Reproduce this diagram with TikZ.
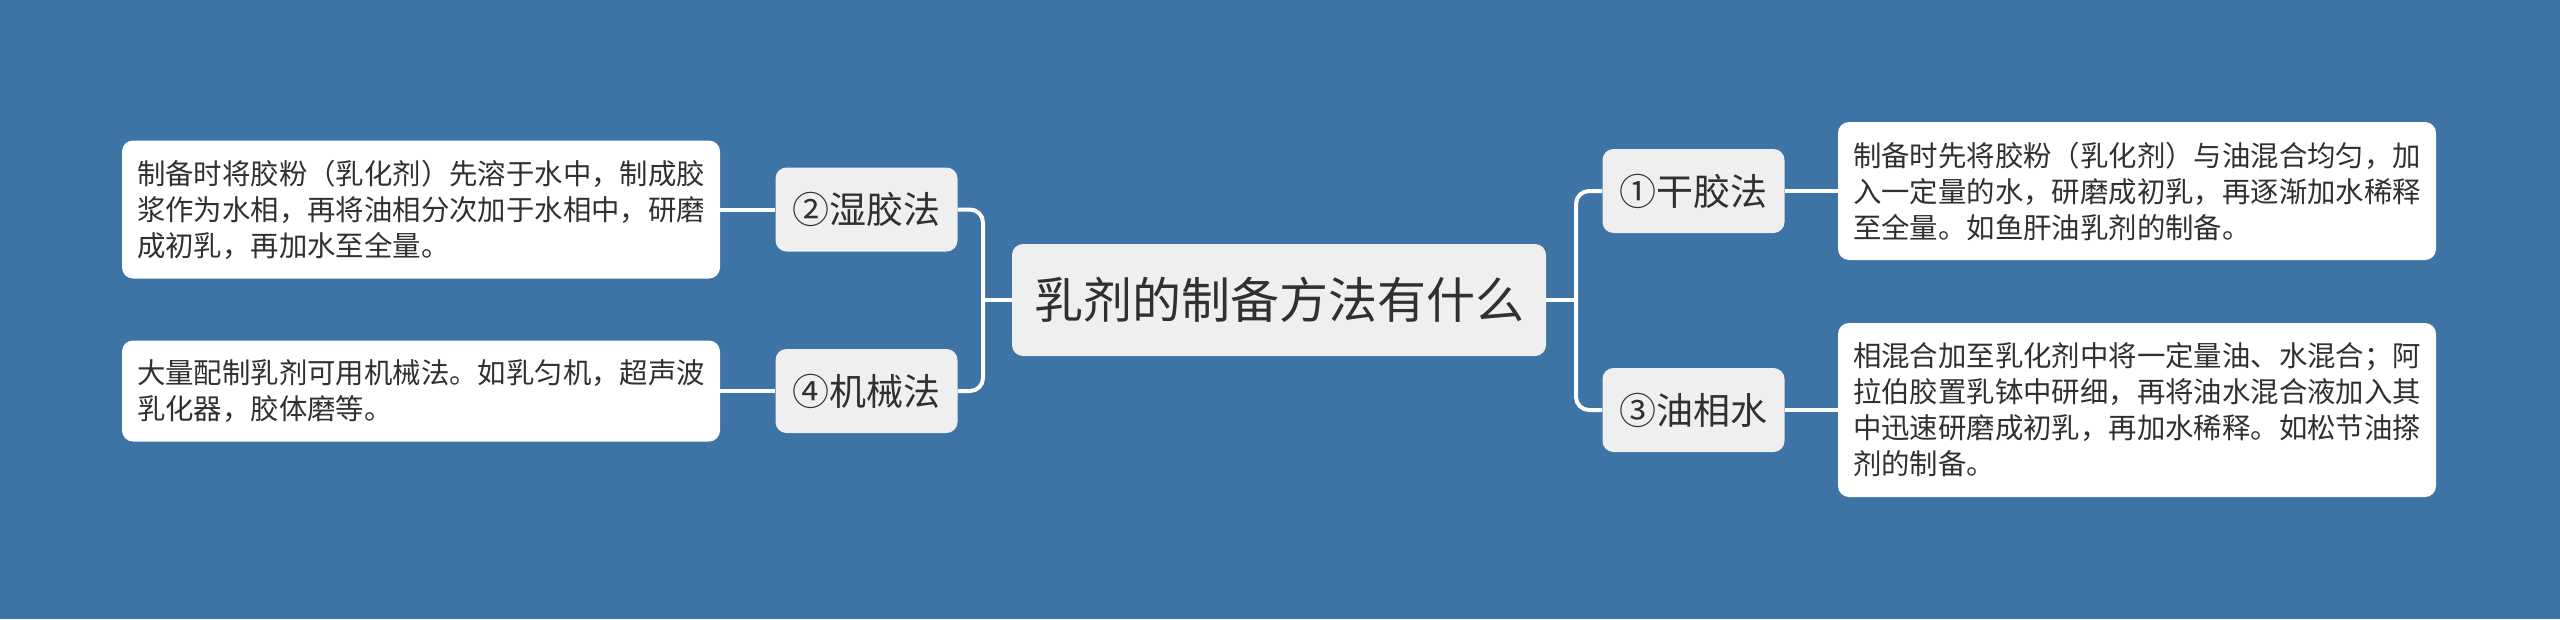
\documentclass[tikz,border=0pt]{standalone}
\usepackage{fontspec}
\newfontfamily\cjk{Noto Sans CJK SC}
\definecolor{bg}{HTML}{3E73A6}
\definecolor{boxgray}{HTML}{EFEFEF}
\definecolor{txt}{HTML}{303030}
\tikzset{
  conn/.style={draw=white, line width=4pt, rounded corners=13pt},
  rootbox/.style={fill=boxgray, rounded corners=11pt, minimum width=534pt, minimum height=112pt, inner sep=0pt, text=txt, font=\cjk\fontsize{49}{56}\selectfont},
  branchbox/.style={fill=boxgray, rounded corners=11pt, minimum width=182pt, minimum height=84pt, inner sep=0pt, text=txt, font=\cjk\fontsize{37}{44}\selectfont},
  leafbox/.style={fill=white, rounded corners=11pt, minimum width=598pt, inner xsep=15pt, inner ysep=0pt, text width=568pt, align=left, text=txt, font=\cjk\fontsize{28.4}{36}\selectfont}
}
\begin{document}
\begin{tikzpicture}[x=1pt,y=-1pt]
\useasboundingbox[fill=bg] (0,0) rectangle (2560,619);
% root
\node[rootbox] (c) at (1279,300) {乳剂的制备方法有什么};
% branches
\node[branchbox] (n2) at (866.5,209.5) {②湿胶法};
\node[branchbox] (n4) at (866.5,391) {④机械法};
\node[branchbox] (n1) at (1693.5,191) {①干胶法};
\node[branchbox] (n3) at (1693.5,410) {③油相水};
% leaves
\node[leafbox, minimum height=138pt] (tl) at (421,209.5) {制备时将胶粉（乳化剂）先溶于水中，制成胶\\浆作为水相，再将油相分次加于水相中，研磨\\成初乳，再加水至全量。};
\node[leafbox, minimum height=101pt] (bl) at (421,391) {大量配制乳剂可用机械法。如乳匀机，超声波\\乳化器，胶体磨等。};
\node[leafbox, minimum height=138pt] (tr) at (2137,191) {制备时先将胶粉（乳化剂）与油混合均匀，加\\入一定量的水，研磨成初乳，再逐渐加水稀释\\至全量。如鱼肝油乳剂的制备。};
\node[leafbox, minimum height=174pt] (br) at (2137,410) {相混合加至乳化剂中将一定量油、水混合；阿\\拉伯胶置乳钵中研细，再将油水混合液加入其\\中迅速研磨成初乳，再加水稀释。如松节油搽\\剂的制备。};
% junctions
\coordinate (lj) at (983,300);
\coordinate (rj) at (1576,300);
% connectors
\draw[conn] (tl.east) -- (n2.west);
\draw[conn] (bl.east) -- (n4.west);
\draw[conn] (n2.east) -| (lj);
\draw[conn] (n4.east) -| (lj);
\draw[conn] (lj) -- (c.west);
\draw[conn] (c.east) -- (rj);
\draw[conn] (rj) |- (n1.west);
\draw[conn] (rj) |- (n3.west);
\draw[conn] (n1.east) -- (tr.west);
\draw[conn] (n3.east) -- (br.west);
\end{tikzpicture}
\end{document}
